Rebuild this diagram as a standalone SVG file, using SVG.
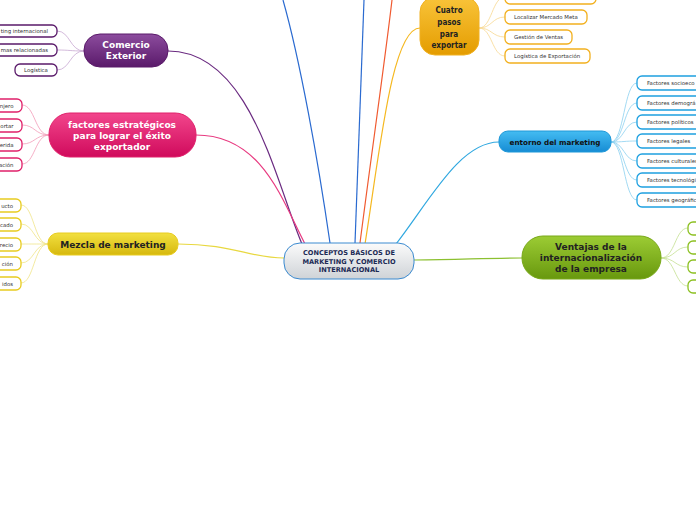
<svg xmlns="http://www.w3.org/2000/svg" width="696" height="520" viewBox="0 0 696 520">
<defs>
<linearGradient id="gC" x1="0" y1="0" x2="0" y2="1"><stop offset="0" stop-color="#fbfbfb"/><stop offset="1" stop-color="#cfd3d7"/></linearGradient>
<linearGradient id="gP" x1="0" y1="0" x2="0" y2="1"><stop offset="0" stop-color="#8c4c9e"/><stop offset="1" stop-color="#5a1a6a"/></linearGradient>
<linearGradient id="gK" x1="0" y1="0" x2="0" y2="1"><stop offset="0" stop-color="#f2468c"/><stop offset="1" stop-color="#d00a5c"/></linearGradient>
<linearGradient id="gY" x1="0" y1="0" x2="0" y2="1"><stop offset="0" stop-color="#f2e040"/><stop offset="1" stop-color="#d6b80e"/></linearGradient>
<linearGradient id="gO" x1="0" y1="0" x2="0" y2="1"><stop offset="0" stop-color="#f9c43a"/><stop offset="1" stop-color="#e49c00"/></linearGradient>
<linearGradient id="gB" x1="0" y1="0" x2="0" y2="1"><stop offset="0" stop-color="#44bcf2"/><stop offset="1" stop-color="#168cd4"/></linearGradient>
<linearGradient id="gG" x1="0" y1="0" x2="0" y2="1"><stop offset="0" stop-color="#9ccc34"/><stop offset="1" stop-color="#68980e"/></linearGradient>
</defs>
<style>
text{font-family:"DejaVu Sans","Liberation Sans",sans-serif}
.c{fill:none;stroke-width:1.2}
.s{fill:none;stroke-width:0.8}
.box{fill:#fff;stroke-width:1.3}
.t{font-size:5.4px;fill:#333}
.h{font-weight:bold;font-size:9px;text-anchor:middle}
</style>
<g id="connectors">
<path class="c" stroke="#6a2a80" d="M168,51 C250,51 275,180 302,244"/>
<path class="c" stroke="#e83a80" d="M196,135 C262,135 282,200 305,244"/>
<path class="c" stroke="#e8d840" d="M178,244 C232,244 250,258 284,258"/>
<path class="c" stroke="#2a6ad0" d="M330,243 C318,160 300,60 283,0"/>
<path class="c" stroke="#2a6ad0" d="M355,243 C358,150 362,60 364,0"/>
<path class="c" stroke="#f05a30" d="M360,243 C372,150 385,60 392,0"/>
<path class="c" stroke="#f5b820" d="M365,244 C380,150 392,28 420,28"/>
<path class="c" stroke="#30a8e0" d="M396,244 C430,200 460,142 499,142"/>
<path class="c" stroke="#8cc030" d="M414,260 C460,260 480,258 522,258"/>
<g stroke="#c8a8d2" class="s">
<path d="M84,51 C70,51 70,31 57,31"/><path d="M84,51 C70,51 70,50 57,50"/><path d="M84,51 C70,51 70,70 57,70"/>
</g>
<g stroke="#f29ab8" class="s">
<path d="M49,135 C35,135 35,105 22,105"/><path d="M49,135 C35,135 35,125 22,125"/><path d="M49,135 C35,135 35,144 22,144"/><path d="M49,135 C35,135 35,164 22,164"/>
</g>
<g stroke="#f0e488" class="s">
<path d="M48,244 C34,244 34,205 21,205"/><path d="M48,244 C34,244 34,224 21,224"/><path d="M48,244 C34,244 34,244 21,244"/><path d="M48,244 C34,244 34,263 21,263"/><path d="M48,244 C34,244 34,283 21,283"/>
</g>
<g stroke="#f8d890" class="s">
<path d="M479,28 C492,28 492,-3 505,-3"/><path d="M479,28 C492,28 492,17 505,17"/><path d="M479,28 C492,28 492,37 505,37"/><path d="M479,28 C492,28 492,56 505,56"/>
</g>
<g stroke="#8cd0f0" class="s">
<path d="M611,142 C624,142 624,83 637,83"/><path d="M611,142 C624,142 624,103 637,103"/><path d="M611,142 C624,142 624,122 637,122"/><path d="M611,142 C624,142 624,141 637,141"/><path d="M611,142 C624,142 624,161 637,161"/><path d="M611,142 C624,142 624,180 637,180"/><path d="M611,142 C624,142 624,200 637,200"/>
</g>
<g stroke="#c4e090" class="s">
<path d="M661,258 C675,258 675,228 688,228"/><path d="M661,258 C675,258 675,247 688,247"/><path d="M661,258 C675,258 675,267 688,267"/><path d="M661,258 C675,258 675,286 688,286"/>
</g>
</g>
<g id="central">
<rect x="284" y="243" width="130" height="36" rx="16" fill="url(#gC)" stroke="#3a8ad0" stroke-width="1"/>
<text x="349" y="255" class="h" style="font-size:6.6px;fill:#1c2a55">CONCEPTOS BÁSICOS DE</text>
<text x="349" y="263.5" class="h" style="font-size:6.6px;fill:#1c2a55">MARKETING Y COMERCIO</text>
<text x="349" y="272" class="h" style="font-size:6.6px;fill:#1c2a55">INTERNACIONAL</text>
</g>
<g id="comercio">
<rect x="84" y="34" width="84" height="33" rx="16" fill="url(#gP)" stroke="#5a1a6a"/>
<text x="126" y="48" class="h" fill="#fff">Comercio</text>
<text x="126" y="59" class="h" fill="#fff">Exterior</text>
</g>
<g id="comercio-children" stroke="#5a1a6a">
<rect class="box" x="-10" y="25" width="67" height="12" rx="5"/>
<rect class="box" x="-10" y="44" width="67" height="12" rx="5"/>
<rect class="box" x="15" y="64" width="42" height="12" rx="5"/>
</g>
<g stroke="none">
<text class="t" x="48" y="33" text-anchor="end">ting internacional</text>
<text class="t" x="48" y="52" text-anchor="end">mas relacionadas</text>
<text class="t" x="36" y="72" text-anchor="middle">Logística</text>
</g>
<g id="factores">
<rect x="49" y="113" width="147" height="44" rx="21" fill="url(#gK)" stroke="#e0206a"/>
<text x="122" y="128" class="h" fill="#fff">factores estratégicos</text>
<text x="122" y="139" class="h" fill="#fff">para lograr el éxito</text>
<text x="122" y="150" class="h" fill="#fff">exportador</text>
</g>
<g id="factores-children" stroke="#e0206a">
<rect class="box" x="-10" y="99" width="32" height="13" rx="5"/>
<rect class="box" x="-10" y="119" width="32" height="13" rx="5"/>
<rect class="box" x="-10" y="138" width="32" height="13" rx="5"/>
<rect class="box" x="-10" y="158" width="32" height="13" rx="5"/>
</g>
<g>
<text class="t" x="13.5" y="107.5" text-anchor="end">njero</text>
<text class="t" x="13.5" y="127.5" text-anchor="end">ortar</text>
<text class="t" x="13.5" y="146.5" text-anchor="end">erida</text>
<text class="t" x="13.5" y="166.5" text-anchor="end">ación</text>
</g>
<g id="mezcla">
<rect x="48" y="233" width="130" height="22" rx="10" fill="url(#gY)" stroke="#e8cc20"/>
<text x="113" y="247.5" class="h" fill="#222">Mezcla de marketing</text>
</g>
<g id="mezcla-children" stroke="#e8cc20">
<rect class="box" x="-10" y="199" width="31" height="13" rx="5"/>
<rect class="box" x="-10" y="218" width="31" height="13" rx="5"/>
<rect class="box" x="-10" y="238" width="31" height="13" rx="5"/>
<rect class="box" x="-10" y="257" width="31" height="13" rx="5"/>
<rect class="box" x="-10" y="277" width="31" height="13" rx="5"/>
</g>
<g>
<text class="t" x="13" y="207.5" text-anchor="end">ucto</text>
<text class="t" x="13" y="226.5" text-anchor="end">cado</text>
<text class="t" x="13" y="246.5" text-anchor="end">recio</text>
<text class="t" x="13" y="265.5" text-anchor="end">ción</text>
<text class="t" x="13" y="285.5" text-anchor="end">idos</text>
</g>
<g id="cuatro">
<rect x="420" y="-3" width="59" height="58" rx="15" fill="url(#gO)" stroke="#f0b020"/>
<g font-weight="bold" font-size="8" text-anchor="middle" fill="#222" style="font-family:'DejaVu Sans Condensed','DejaVu Sans',sans-serif;font-stretch:condensed">
<text x="449" y="13">Cuatro</text>
<text x="449" y="25">pasos</text>
<text x="449" y="37">para</text>
<text x="449" y="48">exportar</text>
</g>
</g>
<g id="cuatro-children" stroke="#f2b01e">
<rect class="box" x="505" y="-10" width="91" height="14" rx="5"/>
<rect class="box" x="505" y="10" width="82" height="14" rx="5"/>
<rect class="box" x="505" y="30" width="67" height="14" rx="5"/>
<rect class="box" x="505" y="49" width="85" height="14" rx="5"/>
</g>
<g>
<text class="t" x="514" y="19">Localizar Mercado Meta</text>
<text class="t" x="514" y="39">Gestión de Ventas</text>
<text class="t" x="514" y="58">Logística de Exportación</text>
</g>
<g id="entorno">
<rect x="499" y="131" width="112" height="21" rx="9" fill="url(#gB)" stroke="#1e98d8"/>
<text x="555" y="144.5" class="h" style="font-size:7.2px" fill="#111">entorno del marketing</text>
</g>
<g id="entorno-children" stroke="#1ea0e0">
<rect class="box" x="637" y="76" width="70" height="14" rx="5"/>
<rect class="box" x="637" y="96" width="70" height="14" rx="5"/>
<rect class="box" x="637" y="115" width="70" height="14" rx="5"/>
<rect class="box" x="637" y="134" width="70" height="14" rx="5"/>
<rect class="box" x="637" y="154" width="70" height="14" rx="5"/>
<rect class="box" x="637" y="173" width="70" height="14" rx="5"/>
<rect class="box" x="637" y="193" width="70" height="14" rx="5"/>
</g>
<g>
<text class="t" x="647" y="85">Factores socioeco</text>
<text class="t" x="647" y="105">Factores demográ</text>
<text class="t" x="647" y="124">Factores políticos</text>
<text class="t" x="647" y="143">Factores legales</text>
<text class="t" x="647" y="163">Factores culturales</text>
<text class="t" x="647" y="182">Factores tecnológi</text>
<text class="t" x="647" y="202">Factores geográfic</text>
</g>
<g id="ventajas">
<rect x="522" y="236" width="139" height="43" rx="21" fill="url(#gG)" stroke="#78a818"/>
<text x="591" y="250" class="h" fill="#222">Ventajas de la</text>
<text x="591" y="261" class="h" fill="#222">internacionalización</text>
<text x="591" y="272" class="h" fill="#222">de la empresa</text>
</g>
<g id="ventajas-children" stroke="#8cc021">
<rect class="box" x="688" y="222" width="30" height="13" rx="5"/>
<rect class="box" x="688" y="241" width="30" height="13" rx="5"/>
<rect class="box" x="688" y="260" width="30" height="13" rx="5"/>
<rect class="box" x="688" y="280" width="30" height="13" rx="5"/>
</g>
</svg>
